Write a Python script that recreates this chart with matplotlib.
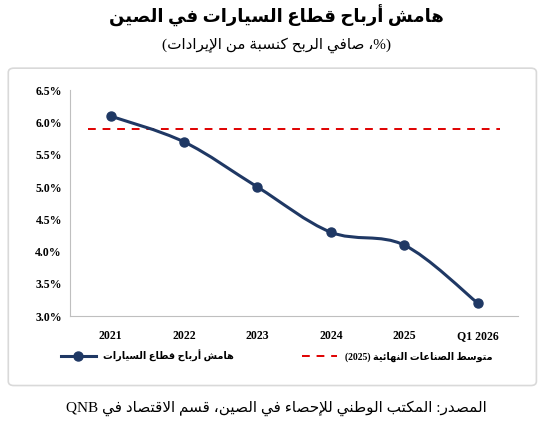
import matplotlib
matplotlib.use("Agg")
import matplotlib.pyplot as plt
from matplotlib.path import Path
from matplotlib.patches import PathPatch, FancyBboxPatch
from matplotlib.lines import Line2D
import numpy as np
import re

years = ["2021", "2022", "2023", "2024", "2025", "Q1 2026"]
margin = [6.1, 5.7, 5.0, 4.3, 4.1, 3.2]
industry_avg = 5.9
yticks = [3.0, 3.5, 4.0, 4.5, 5.0, 5.5, 6.0, 6.5]

title = "هامش أرباح قطاع السيارات في الصين"
subtitle = "(%، صافي الربح كنسبة من الإيرادات)"
lbl1 = "هامش أرباح قطاع السيارات"
lbl2 = "متوسط الصناعات النهائية (2025)"
source = "المصدر: المكتب الوطني للإحصاء في الصين، قسم الاقتصاد في QNB"

# --- minimal Arabic shaping ---
F = {}
def _d(ch, base):
    F[ch] = (base, base + 1, base + 2, base + 3)
def _r(ch, base):
    F[ch] = (base, base + 1, None, None)
F['ء'] = (0xFE80, None, None, None)
for ch, b in [('آ',0xFE81),('أ',0xFE83),('ؤ',0xFE85),('إ',0xFE87),('ا',0xFE8D),('ة',0xFE93),
              ('د',0xFEA9),('ذ',0xFEAB),('ر',0xFEAD),('ز',0xFEAF),('و',0xFEED),('ى',0xFEEF)]:
    _r(ch, b)
for ch, b in [('ئ',0xFE89),('ب',0xFE8F),('ت',0xFE95),('ث',0xFE99),('ج',0xFE9D),('ح',0xFEA1),
              ('خ',0xFEA5),('س',0xFEB1),('ش',0xFEB5),('ص',0xFEB9),('ض',0xFEBD),('ط',0xFEC1),
              ('ظ',0xFEC5),('ع',0xFEC9),('غ',0xFECD),('ف',0xFED1),('ق',0xFED5),('ك',0xFED9),
              ('ل',0xFEDD),('م',0xFEE1),('ن',0xFEE5),('ه',0xFEE9),('ي',0xFEF1)]:
    _d(ch, b)
LAMALEF = {'ا': 0xFEFB, 'أ': 0xFEF7, 'إ': 0xFEF9, 'آ': 0xFEF5}

def shape(s):
    out = []
    i = 0
    n = len(s)
    def dual(c):
        return c in F and F[c][2] is not None
    while i < n:
        c = s[i]
        if c == 'ل' and i + 1 < n and s[i + 1] in LAMALEF:
            prev = s[i - 1] if i > 0 else ''
            out.append(chr(LAMALEF[s[i + 1]] + (1 if dual(prev) else 0)))
            i += 2
            continue
        if c not in F:
            out.append(c); i += 1; continue
        prev = s[i - 1] if i > 0 else ''
        nxt = s[i + 1] if i + 1 < n else ''
        jp = dual(prev)
        jn = dual(c) and nxt in F
        iso, fin, ini, med = F[c]
        if jp and jn: g = med
        elif jp: g = fin if fin else iso
        elif jn: g = ini
        else: g = iso
        out.append(chr(g)); i += 1
    return ''.join(out)

def ar(s):
    v = shape(s)[::-1]
    v = v.translate(str.maketrans('()', ')('))
    v = re.sub(r'[0-9A-Za-z][0-9A-Za-z.]*', lambda m: m.group(0)[::-1], v)
    return v

plt.rcParams['font.family'] = ['Liberation Serif', 'DejaVu Sans']

fig = plt.figure(figsize=(5.53, 4.26), dpi=100)
box = FancyBboxPatch((0.015, 0.095), 0.955, 0.745, boxstyle="round,pad=0,rounding_size=0.01",
                     transform=fig.transFigure, fc='white', ec='#d9d9d9', lw=1.2, zorder=-5)
fig.patches.append(box)
ax = fig.add_axes([0.127, 0.258, 0.81, 0.53])
ax.set_zorder(2)
ax.patch.set_alpha(0)

x = np.arange(len(margin))
y = np.array(margin)
verts = [(x[0], y[0])]
codes = [Path.MOVETO]
for k in range(len(x) - 1):
    p0 = np.array([x[max(k - 1, 0)], y[max(k - 1, 0)]])
    p1 = np.array([x[k], y[k]]); p2 = np.array([x[k + 1], y[k + 1]])
    p3 = np.array([x[min(k + 2, len(x) - 1)], y[min(k + 2, len(x) - 1)]])
    c1 = p1 + (p2 - p0) / 6; c2 = p2 - (p3 - p1) / 6
    verts += [tuple(c1), tuple(c2), tuple(p2)]
    codes += [Path.CURVE4] * 3
col = '#1f3864'
ax.add_patch(PathPatch(Path(verts, codes), fc='none', ec=col, lw=2.2, zorder=3))
ax.plot(x, y, ls='none', marker='o', ms=6.5, color=col, zorder=4)
ax.axhline(industry_avg, xmin=0.04, xmax=0.96, color='#e00000', ls=(0, (4, 3.5)), lw=1.4, zorder=2)

ax.set_xlim(-0.55, 5.55)
ax.set_ylim(3.0, 6.5)
ax.set_yticks(yticks)
ax.set_yticklabels([f"{v:.1f}%" for v in yticks], fontsize=8.5, fontweight='bold')
ax.set_xticks(x)
ax.set_xticklabels(years, fontsize=8.5, fontweight='bold')
for s in ['top', 'right']:
    ax.spines[s].set_visible(False)
for s in ['left', 'bottom']:
    ax.spines[s].set_color('#bfbfbf')
ax.tick_params(axis='both', length=0, pad=6)
ax.tick_params(axis='x', pad=10)

h1 = Line2D([], [], color=col, lw=2.2, marker='o', ms=6.5)
h2 = Line2D([], [], color='#e00000', lw=1.4, ls=(0, (4, 3.5)))
fig.legend([h1, h2], [ar(lbl1), ar(lbl2)], loc='center', bbox_to_anchor=(0.5, 0.165), ncol=2,
           frameon=False, prop={'size': 7, 'weight': 'bold'}, columnspacing=7, handlelength=3.6)

fig.text(0.5, 0.962, ar(title), ha='center', va='center', fontsize=13, fontweight='bold')
fig.text(0.5, 0.893, ar(subtitle), ha='center', va='center', fontsize=11)
fig.text(0.5, 0.042, ar(source), ha='center', va='center', fontsize=11)

fig.savefig("out.png", dpi=100)
